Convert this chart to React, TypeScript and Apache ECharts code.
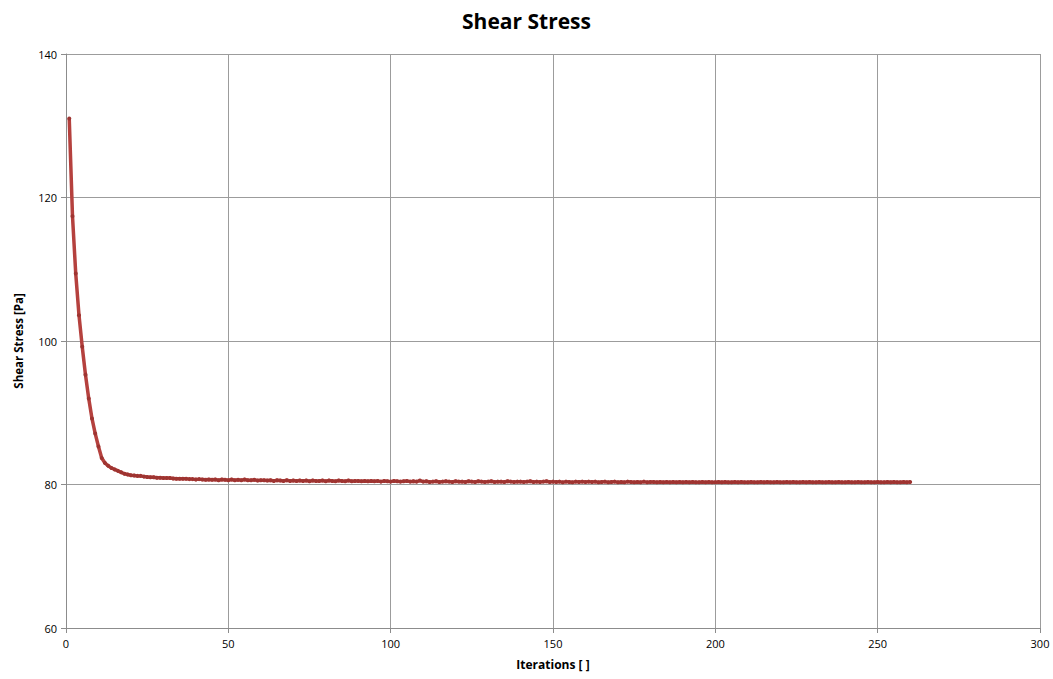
import React, { useEffect, useRef } from "react";
import * as echarts from "echarts";

const shearStress: number[] = [
  131.0, 117.4, 109.4, 103.6, 99.2, 95.3, 92.0, 89.2, 87.1, 85.3,
  83.7, 83.0, 82.6, 82.3, 82.1, 81.9, 81.7, 81.5, 81.4, 81.3,
  81.25, 81.2, 81.2, 81.1, 81.05, 81.0, 81.0, 80.95, 80.95, 80.9,
  80.9, 80.9, 80.85, 80.8, 80.8, 80.8, 80.8, 80.75, 80.75, 80.7,
  80.75, 80.7, 80.65, 80.7, 80.65, 80.7, 80.6, 80.7, 80.65, 80.6,
  80.7, 80.6, 80.65, 80.6, 80.7, 80.6, 80.6, 80.65, 80.55, 80.6,
  80.6, 80.55, 80.6, 80.5, 80.6, 80.55, 80.5, 80.6, 80.5, 80.55,
  80.5, 80.55, 80.5, 80.55, 80.45, 80.55, 80.5, 80.5, 80.55, 80.45,
  80.55, 80.5, 80.45, 80.55, 80.5, 80.45, 80.55, 80.45, 80.5, 80.5,
  80.45, 80.5, 80.45, 80.5, 80.45, 80.5, 80.4, 80.5, 80.45, 80.4,
  80.5, 80.45, 80.4, 80.45, 80.5, 80.4, 80.45, 80.4, 80.55, 80.4,
  80.45, 80.35, 80.4, 80.45, 80.35, 80.4, 80.45, 80.4, 80.35, 80.45,
  80.4, 80.4, 80.35, 80.45, 80.4, 80.35, 80.45, 80.4, 80.35, 80.4,
  80.45, 80.35, 80.4, 80.4, 80.35, 80.45, 80.4, 80.35, 80.4, 80.4,
  80.35, 80.4, 80.45, 80.35, 80.4, 80.35, 80.4, 80.45, 80.35, 80.4,
  80.35, 80.4, 80.3, 80.4, 80.35, 80.3, 80.4, 80.35, 80.4, 80.35,
  80.4, 80.35, 80.4, 80.3, 80.35, 80.4, 80.3, 80.35, 80.4, 80.3,
  80.35, 80.3, 80.4, 80.35, 80.3, 80.35, 80.3, 80.4, 80.3, 80.35,
  80.35, 80.3, 80.35, 80.3, 80.35, 80.3, 80.35, 80.3, 80.35, 80.3,
  80.35, 80.3, 80.35, 80.3, 80.3, 80.35, 80.3, 80.35, 80.3, 80.3,
  80.35, 80.3, 80.35, 80.3, 80.3, 80.35, 80.3, 80.35, 80.3, 80.3,
  80.35, 80.3, 80.3, 80.35, 80.3, 80.35, 80.3, 80.3, 80.35, 80.3,
  80.3, 80.35, 80.3, 80.35, 80.3, 80.3, 80.35, 80.3, 80.35, 80.3,
  80.3, 80.35, 80.3, 80.3, 80.35, 80.3, 80.3, 80.35, 80.3, 80.3,
  80.35, 80.3, 80.3, 80.35, 80.3, 80.3, 80.35, 80.3, 80.3, 80.35,
  80.3, 80.3, 80.35, 80.3, 80.35, 80.3, 80.3, 80.35, 80.3, 80.35,
];

const FIRST_ITERATION = 1;
const xTicks = { min: 0, max: 300, interval: 50 };
const yTicks = { min: 60, max: 140, interval: 20 };

const FONT = "'Open Sans', 'Noto Sans', sans-serif";

export default function App() {
  const ref = useRef<HTMLDivElement>(null);
  useEffect(() => {
    if (!ref.current) return;
    const chart = echarts.init(ref.current, undefined, { renderer: "svg" });
    const data = shearStress.map((v, i) => [FIRST_ITERATION + i, v]);
    chart.setOption({
      animation: false,
      backgroundColor: "#ffffff",
      title: {
        text: "Shear Stress",
        left: "center",
        top: 5,
        textStyle: { fontFamily: FONT, fontSize: 21, fontWeight: "bold", color: "#000" },
      },
      grid: { left: 66, right: 13, top: 54, bottom: 51 },
      xAxis: {
        type: "value",
        min: xTicks.min,
        max: xTicks.max,
        interval: xTicks.interval,
        name: "Iterations [ ]",
        nameLocation: "middle",
        nameGap: 30,
        nameTextStyle: { fontFamily: FONT, fontSize: 12, fontWeight: "bold", color: "#000" },
        axisLine: { show: true, lineStyle: { color: "#8c8c8c", width: 1 } },
        axisTick: { show: true, length: 5, lineStyle: { color: "#8c8c8c" } },
        axisLabel: { fontFamily: FONT, fontSize: 11, color: "#000", margin: 10 },
        splitLine: { show: true, lineStyle: { color: "#9c9c9c", width: 1 } },
      },
      yAxis: {
        type: "value",
        min: yTicks.min,
        max: yTicks.max,
        interval: yTicks.interval,
        name: "Shear Stress [Pa]",
        nameLocation: "middle",
        nameGap: 42,
        nameTextStyle: { fontFamily: FONT, fontSize: 11.5, fontWeight: "bold", color: "#000" },
        axisLine: { show: true, lineStyle: { color: "#8c8c8c", width: 1 } },
        axisTick: { show: true, length: 5, lineStyle: { color: "#8c8c8c" } },
        axisLabel: { fontFamily: FONT, fontSize: 11, color: "#000", margin: 9 },
        splitLine: { show: true, lineStyle: { color: "#9c9c9c", width: 1 } },
      },
      series: [
        {
          type: "line",
          data,
          showSymbol: true,
          symbol: "circle",
          symbolSize: 4,
          lineStyle: { color: "#B5413E", width: 3.5 },
          itemStyle: { color: "#9E3431" },
          z: 3,
        },
      ],
    });
    return () => chart.dispose();
  }, []);
  return (
    <div
      ref={ref}
      style={{ position: "absolute", left: 0, top: 0, width: 1053, height: 679 }}
    />
  );
}
